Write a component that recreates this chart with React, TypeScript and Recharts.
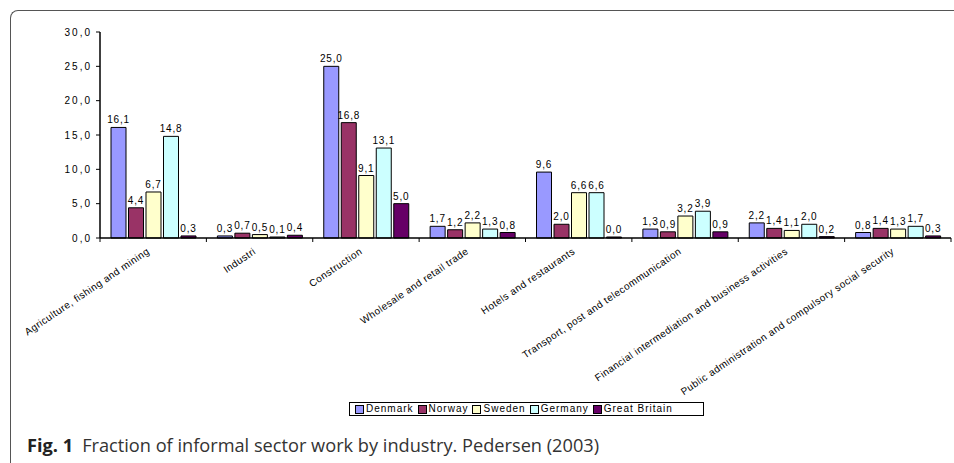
import React from 'react';
import { BarChart, Bar, XAxis, YAxis, LabelList, Legend } from 'recharts';

const categories = [
  'Agriculture, fishing and mining',
  'Industri',
  'Construction',
  'Wholesale and retail trade',
  'Hotels and restaurants',
  'Transport, post and telecommunication',
  'Financial intermediation and business activities',
  'Public administration and compulsory social security',
];

const denmark = [16.1, 0.3, 25.0, 1.7, 9.6, 1.3, 2.2, 0.8];
const norway = [4.4, 0.7, 16.8, 1.2, 2.0, 0.9, 1.4, 1.4];
const sweden = [6.7, 0.5, 9.1, 2.2, 6.6, 3.2, 1.1, 1.3];
const germany = [14.8, 0.1, 13.1, 1.3, 6.6, 3.9, 2.0, 1.7];
const greatBritain = [0.3, 0.4, 5.0, 0.8, 0.0, 0.9, 0.2, 0.3];

const yTicks = [0, 5, 10, 15, 20, 25, 30];

const seriesList = [
  { key: 'Denmark', values: denmark, color: '#9999FF' },
  { key: 'Norway', values: norway, color: '#993366' },
  { key: 'Sweden', values: sweden, color: '#FFFFCC' },
  { key: 'Germany', values: germany, color: '#CCFFFF' },
  { key: 'Great Britain', values: greatBritain, color: '#660066' },
];

const data = categories.map((name, i) => {
  const row: any = { name };
  seriesList.forEach((s) => {
    row[s.key] = s.values[i];
  });
  return row;
});

const FONT = '"Liberation Sans", Arial, sans-serif';
const fmt = (v: number) => v.toFixed(1).replace('.', ',');

const XTick = (props: any) => {
  const { x, y, payload, index } = props;
  const half = payload && typeof payload.offset === 'number' ? payload.offset : 0;
  const tx = x - 3;
  const ty = y + 15;
  return (
    <g>
      <line x1={x - half} x2={x - half} y1={y} y2={y + 4} stroke="#000" strokeWidth={1} />
      {index === categories.length - 1 && (
        <line x1={x + half} x2={x + half} y1={y} y2={y + 4} stroke="#000" strokeWidth={1} />
      )}
      <text
        x={tx}
        y={ty}
        textAnchor="end"
        transform={`rotate(-34, ${tx}, ${ty})`}
        fontFamily={FONT}
        fontSize={10}
        letterSpacing={0.45}
        fill="#000"
      >
        {payload.value}
      </text>
    </g>
  );
};

const LegendBox = () => (
  <div
    style={{
      display: 'flex',
      alignItems: 'center',
      border: '1px solid #000',
      background: '#fff',
      height: 14,
      padding: '0 0 0 5px',
      boxSizing: 'border-box',
      width: 355,
      fontFamily: FONT,
      fontSize: 10,
      letterSpacing: 1,
      color: '#000',
      lineHeight: '12px',
    }}
  >
    {seriesList.map((s) => (
      <div key={s.key} style={{ display: 'flex', alignItems: 'center', marginRight: 4 }}>
        <span
          style={{
            display: 'inline-block',
            width: 7,
            height: 7,
            background: s.color,
            border: '1px solid #000',
            marginRight: 2,
          }}
        />
        <span>{s.key}</span>
      </div>
    ))}
  </div>
);

export default function App() {
  return (
    <div
      style={{
        position: 'absolute',
        left: 0,
        top: 0,
        width: 954,
        height: 463,
        overflow: 'hidden',
        background: '#fff',
      }}
    >
      <div
        style={{
          position: 'absolute',
          left: 10,
          top: 10,
          width: 1000,
          height: 520,
          borderTop: '1.5px solid #555',
          borderLeft: '1.5px solid #555',
          borderTopLeftRadius: 8,
        }}
      />
      <div style={{ position: 'absolute', left: 0, top: 0 }}>
        <BarChart
          width={954}
          height={463}
          data={data}
          margin={{ top: 32, right: 3, left: 0, bottom: 0 }}
          barCategoryGap={11}
          barGap={2.5}
        >
          <XAxis
            xAxisId="top"
            dataKey="name"
            orientation="top"
            height={0}
            tick={false}
            tickLine={false}
            axisLine={{ stroke: '#999', strokeWidth: 1.5 }}
          />
          <YAxis
            yAxisId="right"
            orientation="right"
            width={0}
            domain={[0, 30]}
            tick={false}
            tickLine={false}
            axisLine={{ stroke: '#999', strokeWidth: 1.5 }}
          />
          <XAxis
            dataKey="name"
            height={225}
            interval={0}
            tickLine={false}
            tickSize={0}
            tickMargin={0}
            axisLine={{ stroke: '#000', strokeWidth: 1.5 }}
            tick={<XTick />}
          />
          <YAxis
            width={100}
            domain={[0, 30]}
            ticks={yTicks}
            interval={0}
            tickFormatter={fmt}
            tickSize={4}
            tickMargin={4}
            axisLine={{ stroke: '#000', strokeWidth: 1.5 }}
            tickLine={{ stroke: '#000' }}
            tick={{ fontFamily: FONT, fontSize: 10, fill: '#000', letterSpacing: 2 }}
          />
          <Legend
            layout="horizontal"
            verticalAlign="middle"
            align="center"
            wrapperStyle={{ left: 349, top: 402, width: 355, height: 14 }}
            content={<LegendBox />}
          />
          {seriesList.map((s) => (
            <Bar
              key={s.key}
              dataKey={s.key}
              fill={s.color}
              stroke="#000"
              strokeWidth={1}
              minPointSize={1}
              isAnimationActive={false}
            >
              <LabelList
                dataKey={s.key}
                position="top"
                offset={4}
                formatter={(v: any) => fmt(Number(v))}
                style={{ fontFamily: FONT, fontSize: 10, fill: '#000', letterSpacing: 0.8 }}
              />
            </Bar>
          ))}
        </BarChart>
      </div>
      <div
        style={{
          position: 'absolute',
          left: 27,
          top: 433,
          fontFamily: '"Open Sans", "Noto Sans", sans-serif',
          fontSize: 18.2,
          color: '#222',
          whiteSpace: 'nowrap',
        }}
      >
        <b>Fig. 1</b>
        <span style={{ marginLeft: 9, color: '#333' }}>
          Fraction of informal sector work by industry. Pedersen (2003)
        </span>
      </div>
    </div>
  );
}
